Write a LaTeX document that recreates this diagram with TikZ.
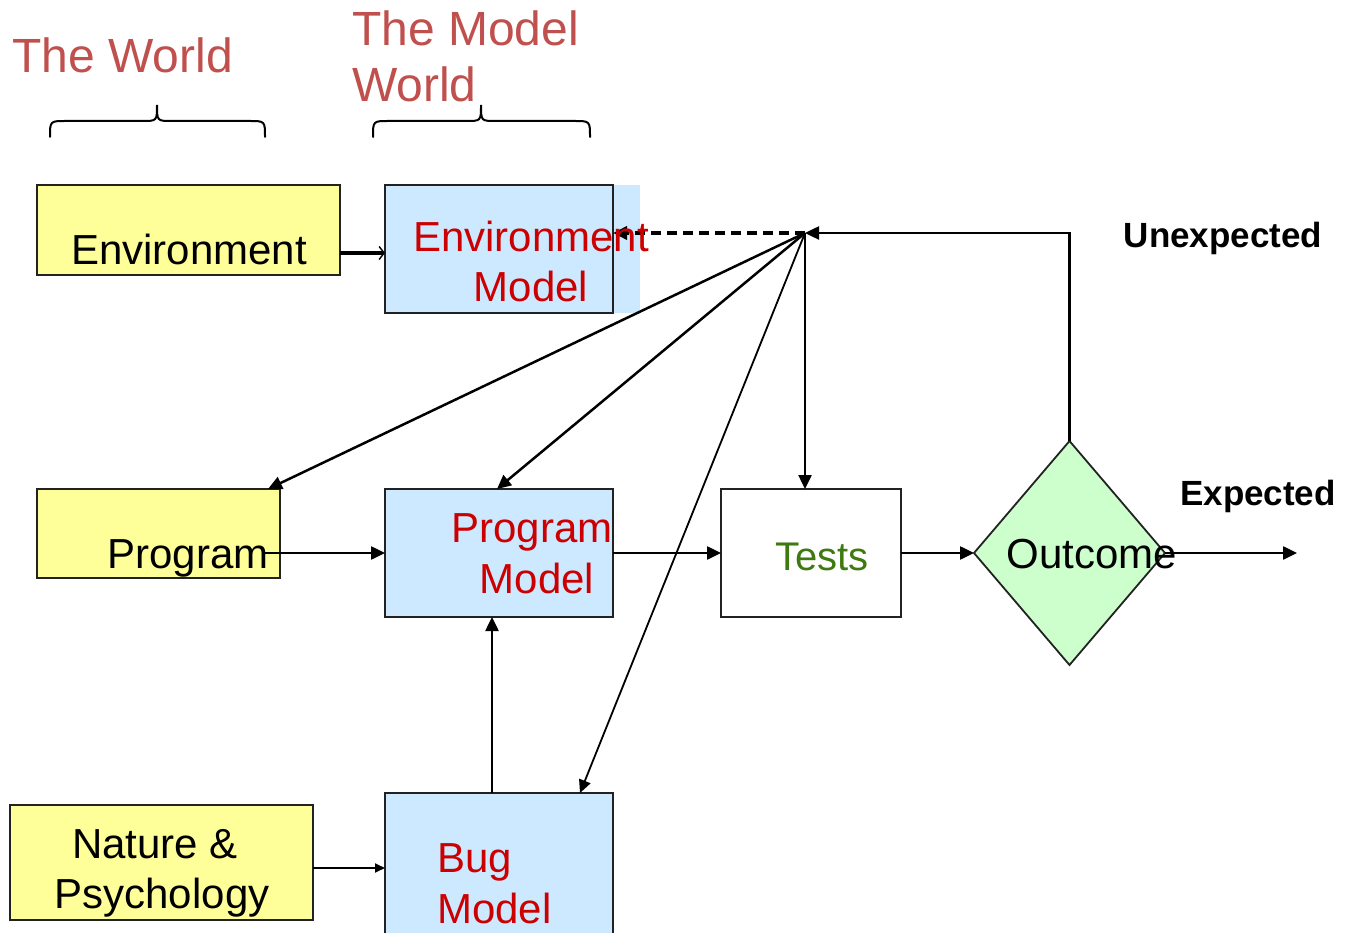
\documentclass[tikz,border=0pt]{standalone}
\usepackage{fontspec}
\setmainfont{Liberation Sans}
\usetikzlibrary{shapes.geometric,arrows.meta,calc}
\definecolor{realbox}{HTML}{FFFF99}
\definecolor{modelbox}{HTML}{CCE9FF}
\definecolor{diamondfill}{HTML}{CCFFCC}
\definecolor{modeltext}{HTML}{CC0000}
\definecolor{titletext}{HTML}{C0504D}
\definecolor{teststext}{HTML}{3F7A10}
\definecolor{borderc}{HTML}{222222}
\newcommand\fsz[1]{\fontsize{#1}{#1}\selectfont}
\begin{document}
\begin{tikzpicture}[x=1pt,y=-1pt,
  boxbase/.style={rectangle, draw=borderc, line width=1.8pt, inner sep=0pt, outer sep=0pt},
  realnode/.style={boxbase, fill=realbox},
  modelnode/.style={boxbase, fill=modelbox},
  txt/.style={inner sep=0pt, anchor=base, font=\fsz{42}},
  modeltxt/.style={txt, text=modeltext},
  titletxt/.style={inner sep=0pt, anchor=base west, font=\fsz{48}, text=titletext},
  boldtxt/.style={inner sep=0pt, anchor=base, font=\fsz{35}\bfseries},
  arr/.style={line width=2.5pt, -{Triangle[length=14pt,width=13pt]}},
  thinarr/.style={line width=1.8pt, -{Triangle[length=10pt,width=9pt]}},
  bracepath/.style={line width=2pt, line cap=round}
]
\useasboundingbox (0,0) rectangle (1345,933);

% titles
\node[titletxt] (tworld) at (12,73) {The World};
\node[titletxt] (tmodel1) at (352,46) {The Model};
\node[titletxt] (tmodel2) at (352,102) {World};

% braces
\draw[bracepath] (50,137) .. controls (50,121) .. (66,121) -- (142,121)
  .. controls (157,121) .. (157,105) .. controls (157,121) .. (172,121)
  -- (249,121) .. controls (265,121) .. (265,137);
\draw[bracepath] (373,137) .. controls (373,121) .. (389,121) -- (466,121)
  .. controls (481,121) .. (481,105) .. controls (481,121) .. (496,121)
  -- (574,121) .. controls (590,121) .. (590,137);

% boxes
\node[realnode, minimum width=303pt, minimum height=90pt] (env) at (188.5,230) {};
\fill[modelbox] (385,185) rectangle (640,313);
\node[modelnode, minimum width=228pt, minimum height=128pt] (envm) at (499,249) {};
\node[realnode, minimum width=243pt, minimum height=89pt] (prog) at (158.5,533.5) {};
\node[modelnode, minimum width=228pt, minimum height=128pt] (progm) at (499,553) {};
\node[boxbase, fill=white, minimum width=180pt, minimum height=128pt] (tests) at (811,553) {};
\node[diamond, draw=borderc, fill=diamondfill, line width=1.8pt, inner sep=0pt, outer sep=0pt,
      minimum width=191pt, minimum height=224pt] (out) at (1069.5,553) {};
\node[realnode, minimum width=303pt, minimum height=115pt] (nat) at (161.5,862.5) {};
\node[rectangle, fill=modelbox, inner sep=0pt, outer sep=0pt, minimum width=228pt, minimum height=150pt] (bug) at (499,868) {};
\draw[draw=borderc, line width=1.8pt] (bug.south west) -- (bug.north west) -- (bug.north east) -- (bug.south east);

\coordinate (hub) at (805,233);
\coordinate (expend) at (1297,553);

% connectors
\draw[line width=4pt, -{Straight Barb[length=5pt,width=13pt,line width=1.4pt]}] (env.east |- 0,253) -- (envm.west |- 0,253);
\draw[line width=3.5pt, dash pattern=on 10pt off 6pt, -{Triangle[length=14pt,width=13pt]}] (hub) -- (envm.east |- hub);
\draw[arr] (out.north) |- (hub);
\draw[arr] (hub) -- ($(prog.north east)+(-12,0)$);
\draw[arr] (hub) -- ($(progm.north)+(-2,0)$);
\draw[arr] (hub) -- (tests.north -| hub);
\draw[line width=1.8pt, -{Triangle[length=13pt,width=12pt]}] (hub) -- ($(bug.north east)+(-33,0)$);
\draw[arr] ($(prog.east |- progm.west)+(-15,0)$) -- (progm.west);
\draw[arr] (progm.east) -- (tests.west);
\draw[arr] (tests.east) -- (out.west);
\draw[arr] (out.east) -- (expend);
\draw[arr] ($(bug.north)+(-7,0)$) -- ($(progm.south)+(-7,0)$);
\draw[thinarr] (nat.east |- 0,868) -- (bug.west |- 0,868);

% texts
\node[txt] (envtxt) at (189,265) {Environment};
\node[modeltxt] (envmtxt1) at (531,252) {Environment};
\node[modeltxt] (envmtxt2) at (531,302) {Model};
\node[txt] (progtxt) at (188,568) {Program};
\node[modeltxt] (progmtxt1) at (532,542) {Program};
\node[modeltxt] (progmtxt2) at (537,593) {Model};
\node[txt, font=\fsz{40}, text=teststext] (teststxt) at (822,570) {Tests};
\node[txt] (outtxt) at (1092,568) {Outcome};
\node[boldtxt] (unexp) at (1223,248) {Unexpected};
\node[boldtxt] (exp) at (1258,505) {Expected};
\node[txt] (nattxt1) at (155,858) {Nature \&};
\node[txt] (nattxt2) at (162,908) {Psychology};
\node[modeltxt, anchor=base west] (bugtxt1) at (437,872) {Bug};
\node[modeltxt, anchor=base west] (bugtxt2) at (437,923) {Model};
\end{tikzpicture}
\end{document}
